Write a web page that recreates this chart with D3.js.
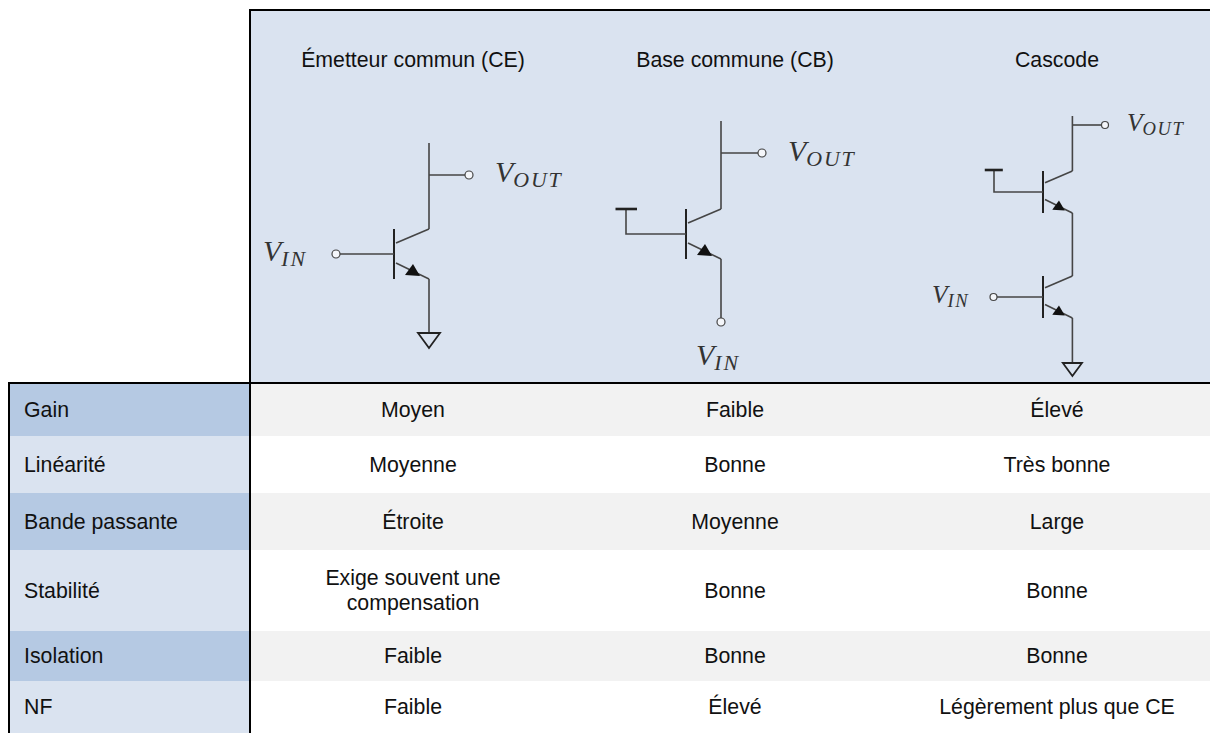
<!DOCTYPE html>
<html>
<head>
<meta charset="utf-8">
<script src="https://cdn.jsdelivr.net/npm/d3@7"></script>
<style>
  html, body { margin: 0; padding: 0; background: #fff; }
  svg { display: block; }
  text { font-family: "Liberation Sans", Arial, sans-serif; fill: #111; }
</style>
</head>
<body>
<script>
const topologies = ['Émetteur commun (CE)', 'Base commune (CB)', 'Cascode']
const parameters = ['Gain', 'Linéarité', 'Bande passante', 'Stabilité', 'Isolation', 'NF']
const ceValues = ['Moyen', 'Moyenne', 'Étroite', 'Exige souvent une\ncompensation', 'Faible', 'Faible']
const cbValues = ['Faible', 'Bonne', 'Moyenne', 'Bonne', 'Bonne', 'Élevé']
const cascodeValues = ['Élevé', 'Très bonne', 'Large', 'Bonne', 'Bonne', 'Légèrement plus que CE']
const rowEdges = [384, 436, 493, 550, 631, 681, 733]

const width = 1210
const height = 733
const headerTop = 10
const headerBottom = 383
const tableLeft = 9
const labelRight = 250
const FONT_SIZE = '21.3px'

const columns = [ceValues, cbValues, cascodeValues]
const xBand = d3.scaleBand().domain(d3.range(3)).range([252, 1218])

const svg = d3.select('body').append('svg')
  .attr('width', width)
  .attr('height', height)
  .attr('viewBox', [0, 0, width, height].join(' '))

// Backgrounds
svg.append('rect').attr('x', labelRight).attr('y', headerTop).attr('width', width - labelRight).attr('height', headerBottom - headerTop).attr('fill', '#dae3f0')

parameters.forEach((label, i) => {
  const y0 = rowEdges[i]
  const y1 = rowEdges[i + 1]
  const mid = (y0 + y1) / 2
  svg.append('rect').attr('x', tableLeft).attr('y', y0).attr('width', labelRight - tableLeft).attr('height', y1 - y0)
    .attr('fill', i % 2 === 0 ? '#b5c9e3' : '#dae3f0')
  svg.append('rect').attr('x', labelRight).attr('y', y0).attr('width', width - labelRight).attr('height', y1 - y0)
    .attr('fill', i % 2 === 0 ? '#f2f2f2' : '#ffffff')
  svg.append('text').attr('x', 24).attr('y', mid).attr('dy', '0.35em').style('font-size', FONT_SIZE).text(label)

  columns.forEach((values, c) => {
    const lines = values[i].split('\n')
    lines.forEach((line, l) => {
      svg.append('text')
        .attr('x', xBand(c) + xBand.bandwidth() / 2)
        .attr('y', mid + (l - (lines.length - 1) / 2) * 25)
        .attr('dy', '0.35em')
        .attr('text-anchor', 'middle')
        .style('font-size', FONT_SIZE)
        .text(line)
    })
  })
})

// Column titles
topologies.forEach((title, c) => {
  svg.append('text')
    .attr('x', xBand(c) + xBand.bandwidth() / 2)
    .attr('y', 60)
    .attr('dy', '0.35em')
    .attr('text-anchor', 'middle')
    .style('font-size', FONT_SIZE)
    .text(title)
})

// Schematic helpers
const WIRE = '#454545'
const wire = (pts, w = 1.6) => svg.append('path')
  .attr('d', d3.line()(pts))
  .attr('fill', 'none')
  .attr('stroke', WIRE)
  .attr('stroke-width', w)

const node = (x, y, r) => svg.append('circle')
  .attr('cx', x).attr('cy', y).attr('r', r)
  .attr('fill', '#f4f6fa')
  .attr('stroke', WIRE)
  .attr('stroke-width', 1.2)

const ground = (x, y, s) => svg.append('path')
  .attr('d', d3.line()([[x - 11 * s, y], [x + 11 * s, y], [x, y + 15 * s]]) + 'Z')
  .attr('fill', 'none')
  .attr('stroke', '#222')
  .attr('stroke-width', 1.8)

const tie = (x, y, s) => wire([[x - 11 * s, y], [x + 10.5 * s, y]], 2.6).attr('stroke', '#222')

const mathLabel = (x, y, sub, size) => {
  const t = svg.append('text')
    .attr('x', x)
    .attr('y', y)
    .style('font-family', '"Liberation Serif", serif')
    .style('font-style', 'italic')
    .style('fill', '#333')
  t.append('tspan').style('font-size', `${size}px`).text('V')
  t.append('tspan')
    .attr('dy', size * 0.17)
    .style('font-size', `${size * 0.73}px`)
    .style('letter-spacing', `${size * 0.06}px`)
    .text(sub)
}

// Bipolar device, bx is the base bar, cy the base wire height
const transistor = (bx, cy, s) => {
  const leg = 35 * s
  const half = 25 * s
  wire([[bx, cy - half], [bx, cy + half]], 2).attr('stroke', '#222')
  wire([[bx + 2, cy - 11 * s], [bx + leg, cy - half]])
  wire([[bx + 2, cy + 9 * s], [bx + leg, cy + half]])
  svg.append('path')
    .attr('d', d3.line()([[bx + 11 * s, cy + 21 * s], [bx + 19 * s, cy + 10 * s], [bx + 26 * s, cy + 22 * s]]) + 'Z')
    .attr('fill', '#111')
  return { x: bx + leg, top: cy - half, bottom: cy + half }
}

// CE stage
const ce = transistor(394, 254, 1)
wire([[ce.x, 143], [ce.x, ce.top]])
wire([[ce.x, 175], [465, 175]])
node(469, 175, 4)
mathLabel(495, 182, 'OUT', 30)
wire([[340, 254], [394, 254]])
node(336, 254, 4)
mathLabel(263, 261, 'IN', 30)
wire([[ce.x, ce.bottom], [ce.x, 333]])
ground(ce.x, 333, 1)

// CB stage
const cb = transistor(686, 234, 1)
wire([[cb.x, 121], [cb.x, cb.top]])
wire([[cb.x, 153], [758, 153]])
node(762, 153, 4)
mathLabel(788, 161, 'OUT', 30)
wire([[626, 209], [626, 234], [686, 234]])
tie(626.5, 209, 1)
wire([[cb.x, cb.bottom], [cb.x, 318]])
node(cb.x, 322, 4)
mathLabel(696, 365, 'IN', 30)

// Cascode stage
const upper = transistor(1043, 192, 0.84)
const lower = transistor(1043, 297, 0.84)
wire([[upper.x, 116], [upper.x, upper.top]])
wire([[upper.x, 125], [1102, 125]])
node(1105, 125, 3.5)
mathLabel(1127, 131, 'OUT', 25.5)
wire([[994, 170], [994, 192], [1043, 192]])
tie(994, 170, 0.84)
wire([[upper.x, upper.bottom], [upper.x, lower.top]])
wire([[997, 297], [1043, 297]])
node(993.5, 297, 3.5)
mathLabel(932, 303, 'IN', 25.5)
wire([[lower.x, lower.bottom], [lower.x, 363]])
ground(lower.x, 363, 0.87)

// Table rules
const rule = (x1, y1, x2, y2) => svg.append('line')
  .attr('x1', x1).attr('y1', y1).attr('x2', x2).attr('y2', y2)
  .attr('stroke', '#000').attr('stroke-width', 2)

rule(labelRight - 1, headerTop, width, headerTop)
rule(tableLeft - 1, headerBottom, width, headerBottom)
rule(labelRight, headerTop - 1, labelRight, height)
rule(tableLeft, headerBottom - 1, tableLeft, height)
</script>
</body>
</html>
